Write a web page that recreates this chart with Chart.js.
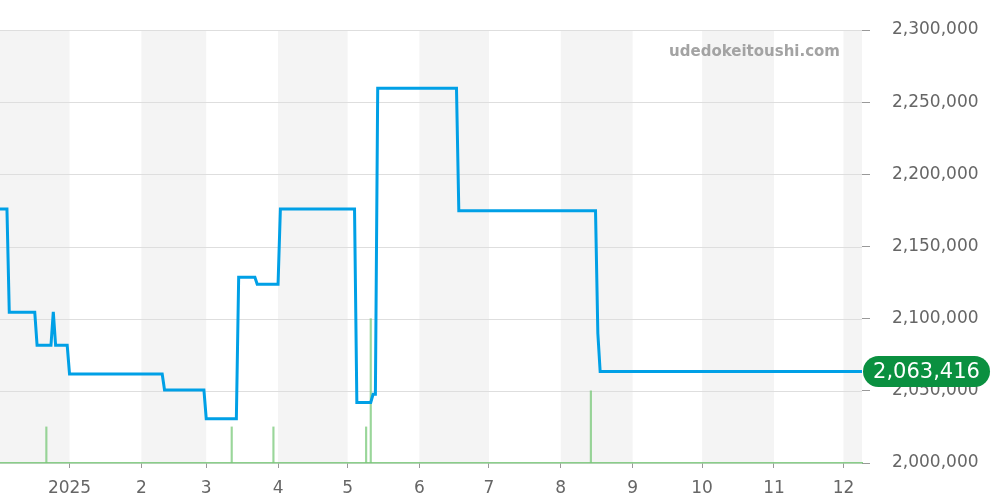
<!DOCTYPE html>
<html>
<head>
<meta charset="utf-8">
<script src="https://cdn.jsdelivr.net/npm/chart.js@4.4.1/dist/chart.umd.min.js"></script>
<style>
  html, body { margin: 0; padding: 0; background: #fff; }
  #wrap { width: 1000px; height: 500px; position: relative; }
</style>
</head>
<body>
<div id="wrap"><canvas id="priceChart"></canvas></div>
<script>
// days counted from 2025-01-01
const priceDays = [-30, -27, -26, -15, -14, -8, -7, -6, -1, 0, 40, 41, 58, 59, 72, 73, 80, 81, 90, 91,
  123, 124, 130, 131, 132, 133, 167, 168, 227, 228, 229, 342];
const priceValues = [2176000, 2176000, 2104500, 2104500, 2081500, 2081500, 2104800, 2081500, 2081500, 2061700,
  2061700, 2050600, 2050600, 2030700, 2030700, 2128700, 2128700, 2123800, 2123800, 2176000,
  2176000, 2042000, 2042000, 2047600, 2047600, 2259600, 2259600, 2174800, 2174800, 2089900, 2063416, 2063416];

const volumeDays = [-10, 70, 88, 128, 130, 225];
const volumeValues = [1, 1, 1, 1, 4, 2];

const monthStarts = [0, 31, 59, 90, 120, 151, 181, 212, 243, 273, 304, 334];
const monthLabels = ["2025", "2", "3", "4", "5", "6", "7", "8", "9", "10", "11", "12"];
const shadedMonths = [[-31, 0], [31, 59], [90, 120], [151, 181], [212, 243], [273, 304], [334, 365]];

const yTicks = [2000000, 2050000, 2100000, 2150000, 2200000, 2250000, 2300000];
const lastPrice = priceValues[priceValues.length - 1];

const bands = {
    id: "bands",
    beforeDraw(chart) {
        const { ctx, chartArea: a, scales: { x } } = chart;
        ctx.save();
        ctx.beginPath();
        ctx.rect(a.left, a.top, a.right - a.left, a.bottom - a.top);
        ctx.clip();
        ctx.fillStyle = "#f4f4f4";
        shadedMonths.forEach(([s, e]) => {
            const x1 = x.getPixelForValue(s);
            const x2 = x.getPixelForValue(e);
            ctx.fillRect(x1, a.top, x2 - x1, a.bottom - a.top);
        });
        ctx.restore();
        // gridlines over bands
        const y = chart.scales.y;
        ctx.save();
        ctx.strokeStyle = "#dedede";
        ctx.lineWidth = 1;
        yTicks.forEach(v => {
            const py = Math.round(y.getPixelForValue(v)) + 0.5;
            ctx.beginPath();
            ctx.moveTo(a.left, py);
            ctx.lineTo(a.right, py);
            ctx.stroke();
        });
        ctx.restore();
        ctx.save();
        ctx.font = "bold 15px 'DejaVu Sans'";
        ctx.fillStyle = "#a3a3a3";
        ctx.textAlign = "right";
        ctx.textBaseline = "middle";
        ctx.fillText("udedokeitoushi.com", 840, 52);
        ctx.restore();
    }
};

const lastLabel = {
    id: "lastLabel",
    afterDraw(chart) {
        const { ctx, scales: { y } } = chart;
        const py = y.getPixelForValue(lastPrice);
        const txt = lastPrice.toLocaleString("en-US");
        ctx.save();
        const left = 863, w = 127, h = 31, r = 15.5;
        ctx.fillStyle = "#0a9040";
        ctx.beginPath();
        ctx.roundRect(left, py - h / 2, w, h, r);
        ctx.fill();
        ctx.font = "21px 'DejaVu Sans'";
        ctx.fillStyle = "#fff";
        ctx.textAlign = "center";
        ctx.textBaseline = "middle";
        ctx.fillText(txt, left + w / 2, py + 1);
        ctx.restore();
    }
};

new Chart(document.getElementById("priceChart"), {
    type: "line",
    data: {
        datasets: [
            {
                type: "line",
                data: priceDays.map((d, i) => ({ x: d, y: priceValues[i] })),
                borderColor: "#00a0e6",
                borderWidth: 3,
                pointRadius: 0,
                tension: 0,
                yAxisID: "y",
                order: 1
            },
            {
                type: "bar",
                data: volumeDays.map((d, i) => ({ x: d, y: volumeValues[i] })),
                backgroundColor: "rgba(120,200,120,0.75)",
                barThickness: 1.5,
                yAxisID: "vol",
                order: 2
            }
        ]
    },
    options: {
        responsive: true,
        maintainAspectRatio: false,
        animation: false,
        layout: { padding: { top: 30, right: 0, left: 0, bottom: 0 } },
        plugins: { legend: { display: false }, tooltip: { enabled: false } },
        scales: {
            x: {
                type: "linear",
                min: -30,
                max: 342,
                offset: false,
                afterBuildTicks(axis) {
                    axis.ticks = monthStarts.map(v => ({ value: v }));
                },
                afterFit(axis) {
                    axis.height = 37;
                    axis.paddingLeft = 0;
                    axis.paddingRight = 0;
                },
                ticks: {
                    autoSkip: false,
                    maxRotation: 0,
                    padding: 10,
                    color: "#666",
                    font: { family: "'DejaVu Sans'", size: 17 },
                    callback: (v) => monthLabels[monthStarts.indexOf(v)]
                },
                grid: { offset: false, drawOnChartArea: false, drawTicks: true, tickLength: 5, color: "#999" },
                border: { display: true, color: "rgba(110,195,110,0.8)", width: 1.5, dash: [1, 1] }
            },
            y: {
                position: "right",
                min: 2000000,
                max: 2300000,
                afterBuildTicks(axis) {
                    axis.ticks = yTicks.map(v => ({ value: v }));
                },
                afterFit(axis) {
                    axis.width = 138;
                    axis.paddingTop = 0;
                    axis.paddingBottom = 0;
                },
                ticks: {
                    padding: 22,
                    color: "#666",
                    font: { family: "'DejaVu Sans'", size: 17 },
                    callback: (v) => v.toLocaleString("en-US")
                },
                grid: { drawOnChartArea: false, drawTicks: true, tickLength: 8, color: "#999" },
                border: { display: false }
            },
            vol: {
                display: false,
                min: 0,
                max: 12
            }
        }
    },
    plugins: [bands, lastLabel]
});
</script>
</body>
</html>
